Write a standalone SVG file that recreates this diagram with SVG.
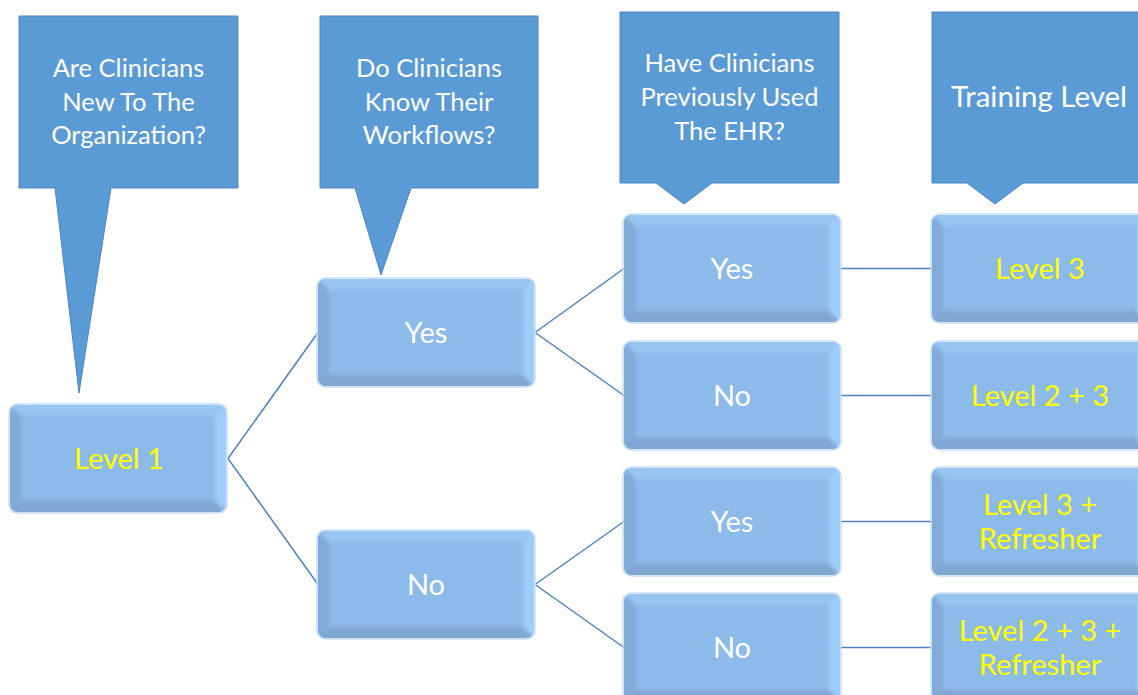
<svg xmlns="http://www.w3.org/2000/svg" xmlns:xlink="http://www.w3.org/1999/xlink" width="1138" height="695" viewBox="0 0 1138 695">
  <style>
    .callout { fill: #5b9bd5; stroke: #4a86c2; stroke-width: 1; }
    .qtext { font-family: Lato, "Open Sans", sans-serif; font-size: 25.5px; fill: #ffffff; text-anchor: middle; }
    .ntext { font-family: Lato, "Open Sans", sans-serif; font-size: 29px; text-anchor: middle; }
    .white { fill: #ffffff; }
    .yellow { fill: #ffff00; }
    .conn { stroke: #4f81bd; stroke-width: 1.5; fill: none; }
  </style>
  <defs>
    <clipPath id="boxClip">
      <rect x="0" y="0" width="216" height="107" rx="8" ry="8"/>
    </clipPath>
    <filter id="soft" x="-5%" y="-5%" width="110%" height="110%">
      <feGaussianBlur stdDeviation="2.2"/>
    </filter>
    <!-- bevelled light-blue box, drawn at the origin -->
    <g id="box">
      <rect x="-1" y="-1" width="218" height="109" rx="9" ry="9" fill="none" stroke="#c4dcf2" stroke-width="1.5"/>
      <g clip-path="url(#boxClip)">
        <rect x="0" y="0" width="216" height="107" fill="#8cbae9"/>
        <g filter="url(#soft)">
          <polygon points="-4,-4 220,-4 205,11 11,11" fill="#98c6f2"/>
          <polygon points="-4,-4 11,11 11,96 -4,111" fill="#80aad8"/>
          <polygon points="-4,111 11,96 205,96 220,111" fill="#80a6d2"/>
          <polygon points="220,-4 220,111 205,96 205,11" fill="#9ecefa"/>
        </g>
      </g>
    </g>
  </defs>

  <!-- connectors -->
  <g id="connectors">
    <line class="conn" x1="228" y1="458.5" x2="318" y2="332.5"/>
    <line class="conn" x1="228" y1="458.5" x2="318" y2="584.5"/>
    <line class="conn" x1="535" y1="332.5" x2="624" y2="268.5"/>
    <line class="conn" x1="535" y1="332.5" x2="624" y2="395.5"/>
    <line class="conn" x1="535" y1="584.5" x2="624" y2="521.5"/>
    <line class="conn" x1="535" y1="584.5" x2="624" y2="647.5"/>
    <line class="conn" x1="840" y1="268.5" x2="932" y2="268.5"/>
    <line class="conn" x1="840" y1="395.5" x2="932" y2="395.5"/>
    <line class="conn" x1="840" y1="521.5" x2="932" y2="521.5"/>
    <line class="conn" x1="840" y1="647.5" x2="932" y2="647.5"/>
  </g>

  <!-- question callouts -->
  <g id="q-new">
    <path class="callout" d="M19,16 H238 V188 H111 L79,393 L55,188 H19 Z"/>
    <text class="qtext" x="128.5" y="77">Are Clinicians</text>
    <text class="qtext" x="128.5" y="111">New To The</text>
    <text class="qtext" x="128.5" y="144">Organization?</text>
  </g>
  <g id="q-workflows">
    <path class="callout" d="M320,16 H538 V188 H411 L381,275 L355,188 H320 Z"/>
    <text class="qtext" x="429" y="77">Do Clinicians</text>
    <text class="qtext" x="429" y="111">Know Their</text>
    <text class="qtext" x="429" y="144">Workflows?</text>
  </g>
  <g id="q-ehr">
    <path class="callout" d="M620,12 H839 V183 H712 L684,204 L656,183 H620 Z"/>
    <text class="qtext" x="729.5" y="72">Have Clinicians</text>
    <text class="qtext" x="729.5" y="106">Previously Used</text>
    <text class="qtext" x="729.5" y="140">The EHR?</text>
  </g>
  <g id="q-training">
    <path class="callout" d="M932,12 H1150 V183 H1023 L995,204 L967,183 H932 Z"/>
    <text class="qtext" x="1039" y="107" style="font-size:29.5px">Training Level</text>
  </g>

  <!-- level 1 -->
  <g id="n-level1">
    <use xlink:href="#box" x="10" y="405"/>
    <text class="ntext yellow" x="119" y="468.5">Level 1</text>
  </g>

  <!-- workflow answers -->
  <g id="n-wf-yes">
    <use xlink:href="#box" x="318" y="279"/>
    <text class="ntext white" x="426" y="342.5">Yes</text>
  </g>
  <g id="n-wf-no">
    <use xlink:href="#box" x="318" y="531"/>
    <text class="ntext white" x="426" y="594.5">No</text>
  </g>

  <!-- EHR answers -->
  <g id="n-ehr-yes-1">
    <use xlink:href="#box" x="624" y="215"/>
    <text class="ntext white" x="732" y="278.5">Yes</text>
  </g>
  <g id="n-ehr-no-1">
    <use xlink:href="#box" x="624" y="342"/>
    <text class="ntext white" x="732" y="405.5">No</text>
  </g>
  <g id="n-ehr-yes-2">
    <use xlink:href="#box" x="624" y="468"/>
    <text class="ntext white" x="732" y="531.5">Yes</text>
  </g>
  <g id="n-ehr-no-2">
    <use xlink:href="#box" x="624" y="594"/>
    <text class="ntext white" x="732" y="657.5">No</text>
  </g>

  <!-- training levels -->
  <g id="t-level3">
    <use xlink:href="#box" x="932" y="215"/>
    <text class="ntext yellow" x="1040" y="278.5">Level 3</text>
  </g>
  <g id="t-level23">
    <use xlink:href="#box" x="932" y="342"/>
    <text class="ntext yellow" x="1040" y="405.5">Level 2 + 3</text>
  </g>
  <g id="t-level3-ref">
    <use xlink:href="#box" x="932" y="468"/>
    <text class="ntext yellow" x="1040" y="514.5">Level 3 +</text>
    <text class="ntext yellow" x="1040" y="548.5">Refresher</text>
  </g>
  <g id="t-level23-ref">
    <use xlink:href="#box" x="932" y="594"/>
    <text class="ntext yellow" x="1040" y="640.5">Level 2 + 3 +</text>
    <text class="ntext yellow" x="1040" y="674.5">Refresher</text>
  </g>
</svg>
